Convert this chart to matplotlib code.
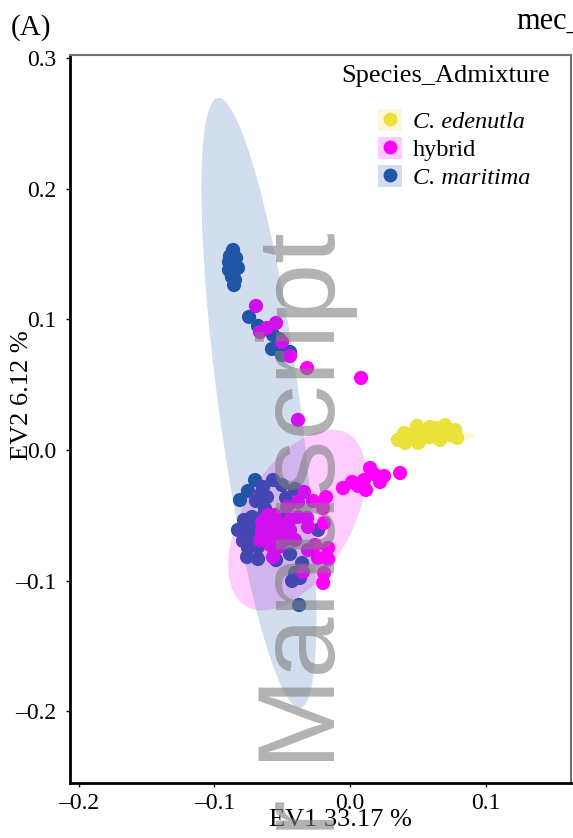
import matplotlib
matplotlib.use("Agg")
import matplotlib.pyplot as plt
from matplotlib.patches import Ellipse, Patch
from matplotlib.lines import Line2D
from matplotlib.legend_handler import HandlerTuple
import numpy as np

plt.rcParams['font.family'] = ['Liberation Serif', 'DejaVu Serif']

# PCA scores (EV1, EV2) per group
edenutla_ev1 = [0.0354, 0.0399, 0.0443, 0.0487, 0.0517, 0.0554, 0.0590, 0.0635, 0.0664, 0.0701,
                0.0738, 0.0775, 0.0790, 0.0701, 0.0590, 0.0502, 0.0406, 0.0664, 0.0494]
edenutla_ev2 = [0.0077, 0.0130, 0.0099, 0.0153, 0.0077, 0.0138, 0.0099, 0.0168, 0.0077, 0.0138,
                0.0115, 0.0153, 0.0092, 0.0191, 0.0176, 0.0054, 0.0054, 0.0107, 0.0184]

hybrid_ev1 = [-0.0694, -0.0546, -0.0613, -0.0664, -0.0502, -0.0443, -0.0317, 0.0081, -0.0384,
              -0.0339, -0.0273, -0.0177, -0.0199, -0.0384, -0.0465, -0.0576, -0.0517, -0.0627,
              -0.0568, -0.0494, -0.0443, -0.0384, -0.0310, -0.0192, -0.0317, -0.0568, -0.0524,
              -0.0310, -0.0258, -0.0162, -0.0236, -0.0162, -0.0347, -0.0192, -0.0199, -0.0613,
              -0.0649, -0.0517, -0.0590, -0.0480, -0.0554,
              -0.0649, -0.0605, -0.0443, -0.0406, -0.0480, -0.0664, -0.0590,
              -0.0052, 0.0015, 0.0059, 0.0103, 0.0148, 0.0177, 0.0221, 0.0118, 0.0251, 0.0369]
hybrid_ev2 = [0.1102, 0.0972, 0.0933, 0.0903, 0.0826, 0.0719, 0.0627, 0.0551, 0.0230,
              -0.0321, -0.0390, -0.0360, -0.0444, -0.0398, -0.0436, -0.0589, -0.0574, -0.0650,
              -0.0666, -0.0635, -0.0536, -0.0513, -0.0589, -0.0559, -0.0520, -0.0819, -0.0742,
              -0.0765, -0.0727, -0.0750, -0.0826, -0.0834, -0.0933, -0.0941, -0.1018, -0.0696,
              -0.0612, -0.0666, -0.0612, -0.0689, -0.0497,
              -0.0551, -0.0497, -0.0612, -0.0689, -0.0574, -0.0689, -0.0727,
              -0.0291, -0.0245, -0.0275, -0.0230, -0.0138, -0.0184, -0.0245, -0.0306, -0.0199, -0.0176]

maritima_ev1 = [-0.0863, -0.0886, -0.0893, -0.0878, -0.0893, -0.0856, -0.0871, -0.0849, -0.0856,
                -0.0827, -0.0841, -0.0878,
                -0.0745, -0.0679, -0.0568, -0.0524, -0.0576, -0.0502, -0.0443,
                -0.0753, -0.0642, -0.0568, -0.0502, -0.0406, -0.0694, -0.0613, -0.0472, -0.0627,
                -0.0723, -0.0649, -0.0760, -0.0723, -0.0790, -0.0753, -0.0679, -0.0760, -0.0679,
                -0.0443, -0.0354, -0.0406, -0.0428, -0.0376, -0.0236, -0.0472, -0.0782, -0.0590,
                -0.0546, -0.0369, -0.0812, -0.0701, -0.0649, -0.0738, -0.0827]
maritima_ev2 = [0.1530, 0.1484, 0.1438, 0.1408, 0.1377, 0.1362, 0.1324, 0.1301, 0.1262,
                0.1393, 0.1469, 0.1454,
                0.1018, 0.0949, 0.0880, 0.0849, 0.0773, 0.0727, 0.0750,
                -0.0314, -0.0283, -0.0230, -0.0268, -0.0298, -0.0390, -0.0360, -0.0367, -0.0451,
                -0.0513, -0.0513, -0.0597, -0.0650, -0.0696, -0.0750, -0.0742, -0.0819, -0.0834,
                -0.0796, -0.0865, -0.0941, -0.1002, -0.1186, -0.0612, -0.0520, -0.0536, -0.0536,
                -0.0842, -0.0979, -0.0383, -0.0230, -0.0321, -0.0574, -0.0612]

# confidence ellipses: centre, major, minor, angle (deg)
edenutla_ell = [(0.0605, 0.0099), 0.062, 0.011, 2]
hybrid_ell = [(-0.0391, -0.0536), 0.152, 0.080, 61]
maritima_ell = [(-0.0672, 0.0360), 0.4706, 0.060, 97.4]

groups = ['C. edenutla', 'hybrid', 'C. maritima']
colors = ['#EBE13B', '#FF00FF', '#2155A5']

fig = plt.figure(figsize=(5.73, 8.38), dpi=100)
ax = fig.add_axes([70/573, 1-783/838, 501/573, 728/838])

ax.scatter(maritima_ev1, maritima_ev2, s=105, color=colors[2], edgecolors='none', zorder=2)
ax.scatter(hybrid_ev1, hybrid_ev2, s=105, color=colors[1], edgecolors='none', zorder=2)
ax.scatter(edenutla_ev1, edenutla_ev2, s=105, color=colors[0], edgecolors='none', zorder=2)

for ell, c in zip([edenutla_ell, hybrid_ell, maritima_ell], colors):
    e = Ellipse(ell[0], ell[1], ell[2], angle=ell[3], facecolor=c, alpha=0.2,
                edgecolor='none', zorder=3)
    ax.add_patch(e)

ax.set_xlim(-0.2066, 0.163)
ax.set_ylim(-0.2548, 0.3022)
ax.set_xticks([-0.2, -0.1, 0.0, 0.1])
ax.set_yticks([-0.2, -0.1, 0.0, 0.1, 0.2, 0.3])
fmt = plt.FuncFormatter(lambda v, p: ('%.1f' % v).replace('-', '\u2013'))
ax.xaxis.set_major_formatter(fmt)
ax.yaxis.set_major_formatter(fmt)
ax.tick_params(axis='both', direction='out', length=3, width=1, colors='black', labelsize=17)
ax.tick_params(axis='y', pad=7)
ax.tick_params(axis='x', pad=4)

for s in ['left', 'bottom']:
    ax.spines[s].set_color('black')
    ax.spines[s].set_linewidth(2)
for s in ['top', 'right']:
    ax.spines[s].set_color('#707070')
    ax.spines[s].set_linewidth(1.5)

ax.set_xlabel('EV1 33.17 %', fontsize=19)
ax.set_ylabel('EV2 6.12 %', fontsize=19)
ax.xaxis.set_label_coords(0.539, -0.036)
ax.yaxis.set_label_coords(-0.074, 0.533)

# legend: tinted key square with the group's dot on top
handles = [(Patch(facecolor=c, alpha=0.2, edgecolor='none'),
            Line2D([], [], marker='o', ls='', color=c, markersize=10, markeredgewidth=0))
           for c in colors]
leg = ax.legend(handles, groups, fontsize=17.5,
                handler_map={tuple: HandlerTuple(ndivide=1)}, handlelength=1.0,
                handleheight=1.0, labelspacing=0.16, handletextpad=0.42, frameon=False,
                borderpad=0, borderaxespad=0, loc='upper left',
                bbox_to_anchor=(378/573, 1-109/838), bbox_transform=fig.transFigure)
leg.get_texts()[0].set_fontstyle('italic')
leg.get_texts()[2].set_fontstyle('italic')
fig.text(341/573, 1-82/838, 'Species_Admixture', fontsize=19, va='baseline', ha='left')

fig.text(11/573, 1-35/838, '(A)', fontsize=21, va='baseline', ha='left')
fig.text(516/573, 1-29/838, 'mec_', fontsize=22, va='baseline', ha='left')

fig.text(335/573, 1-232/838, 'Author Manuscript', fontsize=79, family='Liberation Sans',
         color='#7f7f7f', alpha=0.6, rotation=90, rotation_mode='anchor',
         ha='right', va='baseline', zorder=10)

fig.savefig('out.png', dpi=100)
